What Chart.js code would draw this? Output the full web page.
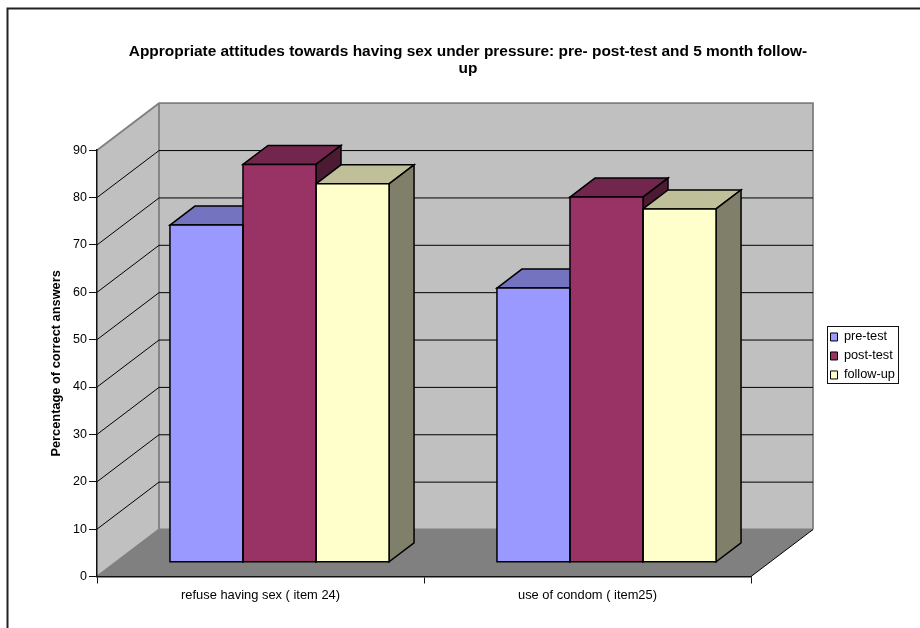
<!DOCTYPE html>
<html>
<head>
<meta charset="utf-8">
<title>Appropriate attitudes</title>
<script src="https://cdn.jsdelivr.net/npm/chart.js@4/dist/chart.umd.min.js"></script>
<style>
  html, body { margin: 0; padding: 0; background: #fff; }
  canvas { display: block; }
</style>
</head>
<body>
<canvas id="attitudesChart" width="920" height="628"></canvas>
<script>
const categories = ['refuse having sex ( item 24)', 'use of condom ( item25)'];
const preTest = [71.2, 57.9];
const postTest = [84, 77.1];
const followUp = [79.9, 74.6];
const yTickStep = 10;
const yMax = 90;

const seriesColors = {
  pre: { front: '#9999FF', top: '#7373BF', side: '#4D4D80' },
  post: { front: '#993366', top: '#73264D', side: '#4D1A33' },
  follow: { front: '#FFFFCC', top: '#BFBF99', side: '#80806A' }
};

const fontFamily = '"Liberation Sans", Arial, sans-serif';

// depth of the box the chart sits in, and of the bars inside it
const wallDx = 62, wallDy = 47;
const barDx = 25, barDy = 19;
const barShiftX = 19, barShiftY = 14.2;
const barLine = 1.5;

function poly(ctx, pts, fill, stroke, lw) {
  ctx.beginPath();
  pts.forEach((p, i) => i ? ctx.lineTo(p[0], p[1]) : ctx.moveTo(p[0], p[1]));
  ctx.closePath();
  if (fill) {
    ctx.fillStyle = fill;
    ctx.fill();
  }
  if (stroke) {
    ctx.strokeStyle = stroke;
    ctx.lineWidth = lw;
    ctx.lineJoin = 'miter';
    ctx.stroke();
  }
}

const box3d = {
  id: 'box3d',
  afterLayout(chart) {
    // title is centred over the whole figure, legend sits out to the right
    const title = chart.titleBlock;
    title.left = 16;
    title.right = 920;

    const legend = chart.legend;
    const pad = legend.options.labels.padding;
    legend.left = 830.5 - pad;
    legend.top = 330.6 - pad;
    legend.right = 899;
    legend.bottom = 400;
  },
  beforeDraw(chart) {
    const { ctx, chartArea: a, scales: { y } } = chart;
    const l = a.left, r = a.right, t = a.top, b = a.bottom;

    ctx.save();
    // outer frame, only the top and left edges
    ctx.strokeStyle = '#222';
    ctx.lineWidth = 2;
    ctx.beginPath();
    ctx.moveTo(7.5, 628);
    ctx.lineTo(7.5, 8.5);
    ctx.lineTo(920, 8.5);
    ctx.stroke();

    // floor
    poly(ctx, [[l, b], [r, b], [r + wallDx, b - wallDy], [l + wallDx, b - wallDy]], '#808080');
    // back wall
    poly(ctx, [[l + wallDx, t - wallDy], [r + wallDx, t - wallDy], [r + wallDx, b - wallDy], [l + wallDx, b - wallDy]], '#C0C0C0');
    // left wall
    poly(ctx, [[l, t], [l + wallDx, t - wallDy], [l + wallDx, b - wallDy], [l, b]], '#C0C0C0');

    // wall edges
    ctx.strokeStyle = '#808080';
    ctx.lineWidth = 1.8;
    ctx.beginPath();
    ctx.moveTo(l, t);
    ctx.lineTo(l + wallDx, t - wallDy);
    ctx.lineTo(r + wallDx, t - wallDy);
    ctx.lineTo(r + wallDx, b - wallDy);
    ctx.moveTo(l + wallDx, t - wallDy);
    ctx.lineTo(l + wallDx, b - wallDy);
    ctx.lineTo(l, b);
    ctx.moveTo(l + wallDx, b - wallDy);
    ctx.lineTo(r + wallDx, b - wallDy);
    ctx.stroke();

    // grid lines run along the left wall then across the back
    ctx.strokeStyle = '#000';
    ctx.lineWidth = 1;
    y.ticks.forEach(tick => {
      if (tick.value === 0 || tick.value === yMax) return;
      const py = y.getPixelForValue(tick.value);
      ctx.beginPath();
      ctx.moveTo(l, py);
      ctx.lineTo(l + wallDx, py - wallDy);
      ctx.lineTo(r + wallDx, py - wallDy);
      ctx.stroke();
    });

    ctx.beginPath();
    ctx.moveTo(r, b);
    ctx.lineTo(r + wallDx, b - wallDy);
    ctx.stroke();
    ctx.restore();
  },
  beforeDatasetsDraw(chart) {
    const { ctx } = chart;
    ctx.save();
    ctx.translate(barShiftX, -barShiftY);

    // tops and sides go down first, left to right, fronts come from the bar elements
    chart.data.datasets.forEach((ds, i) => {
      chart.getDatasetMeta(i).data.forEach(bar => {
        const x0 = bar.x - bar.width / 2, x1 = bar.x + bar.width / 2;
        poly(ctx, [[x0, bar.y], [x0 + barDx, bar.y - barDy], [x1 + barDx, bar.y - barDy], [x1, bar.y]], ds.topColor, '#000', barLine);
        poly(ctx, [[x1, bar.y], [x1 + barDx, bar.y - barDy], [x1 + barDx, bar.base - barDy], [x1, bar.base]], ds.sideColor, '#000', barLine);
      });
    });
  },
  afterDatasetsDraw(chart) {
    const { ctx } = chart;
    // outlines for the front faces
    chart.data.datasets.forEach((ds, i) => {
      chart.getDatasetMeta(i).data.forEach(bar => {
        const x0 = bar.x - bar.width / 2, x1 = bar.x + bar.width / 2;
        poly(ctx, [[x0, bar.y], [x1, bar.y], [x1, bar.base], [x0, bar.base]], null, '#000', barLine);
      });
    });
    ctx.restore();
  },
  afterDraw(chart) {
    const { ctx } = chart;
    ctx.save();
    ctx.strokeStyle = '#111';
    ctx.lineWidth = 1;
    ctx.strokeRect(827.5, 326.5, 71, 57);
    ctx.restore();
  }
};

new Chart(document.getElementById('attitudesChart'), {
  type: 'bar',
  data: {
    labels: categories,
    datasets: [
      { label: 'pre-test', data: preTest, backgroundColor: seriesColors.pre.front, topColor: seriesColors.pre.top, sideColor: seriesColors.pre.side },
      { label: 'post-test', data: postTest, backgroundColor: seriesColors.post.front, topColor: seriesColors.post.top, sideColor: seriesColors.post.side },
      { label: 'follow-up', data: followUp, backgroundColor: seriesColors.follow.front, topColor: seriesColors.follow.top, sideColor: seriesColors.follow.side }
    ].map(ds => Object.assign(ds, { borderWidth: 0, clip: false }))
  },
  plugins: [box3d],
  options: {
    responsive: false,
    animation: false,
    events: [],
    categoryPercentage: 0.67,
    barPercentage: 1,
    layout: { padding: { left: 0, right: 169, top: 0, bottom: 0 } },
    scales: {
      x: {
        grid: { offset: true, drawOnChartArea: false, color: '#111', tickLength: 7, lineWidth: 1 },
        border: { color: '#111', width: 1.5 },
        ticks: { color: '#000', font: { family: fontFamily, size: 12.9 }, padding: 4, maxRotation: 0 },
        afterFit(scale) { scale.height = 51.5; }
      },
      y: {
        min: 0,
        max: yMax,
        ticks: { stepSize: yTickStep, color: '#000', font: { family: fontFamily, size: 12.5 }, padding: 2 },
        grid: { drawOnChartArea: false, color: '#111', tickLength: 8, lineWidth: 1 },
        border: { color: '#111', width: 1.5 },
        title: { display: true, text: 'Percentage of correct answers', color: '#000', font: { family: fontFamily, size: 12.8, weight: 'bold' }, padding: { top: 49, bottom: 0 } },
        afterFit(scale) { scale.width = 97; }
      }
    },
    plugins: {
      tooltip: { enabled: false },
      title: {
        display: true,
        text: ['Appropriate attitudes towards having sex under pressure: pre- post-test and 5 month follow-', 'up'],
        color: '#000',
        font: { family: fontFamily, size: 15.45, weight: 'bold', lineHeight: 1.12 },
        padding: { top: 43, bottom: 72.6 }
      },
      legend: {
        position: 'chartArea',
        align: 'start',
        labels: {
          boxWidth: 7,
          boxHeight: 8,
          padding: 6.25,
          color: '#000',
          font: { family: fontFamily, size: 12.75 },
          generateLabels(chart) {
            return Chart.defaults.plugins.legend.labels.generateLabels(chart)
              .map(item => Object.assign(item, { strokeStyle: '#000', lineWidth: 1 }));
          }
        }
      }
    }
  }
});
</script>
</body>
</html>
